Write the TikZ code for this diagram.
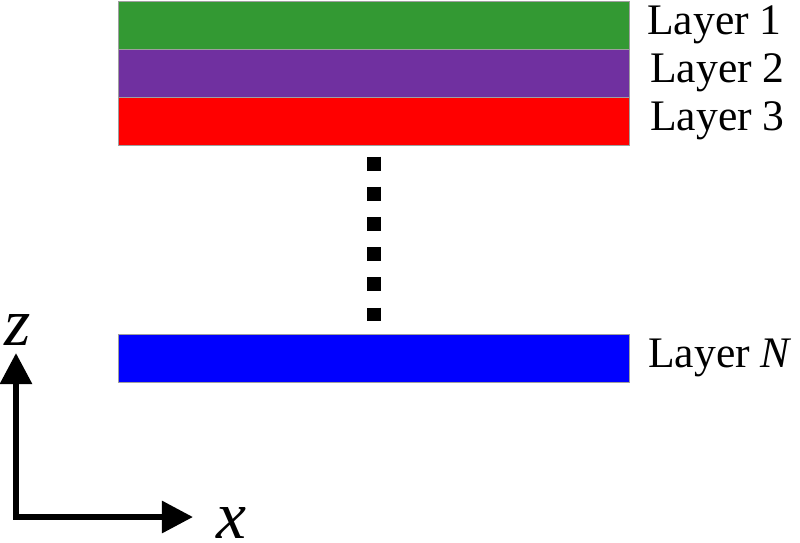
\documentclass[tikz,border=0pt]{standalone}
\usepackage{fontspec}
\setmainfont{Liberation Serif}
\usetikzlibrary{arrows.meta,positioning}

\definecolor{layergreen}{HTML}{339933}
\definecolor{layerpurple}{HTML}{7030A0}
\definecolor{layerred}{HTML}{FF0000}
\definecolor{layerblue}{HTML}{0000FF}

\tikzset{
  layer/.style={draw=gray!75, line width=0.7pt, minimum width=12.75cm, minimum height=1.2cm, inner sep=0pt},
  layerlabel/.style={anchor=west, inner sep=0pt, font=\fontsize{31}{36}\selectfont},
  axislabel/.style={inner sep=0pt, font=\fontsize{48}{54}\selectfont\itshape},
  axis/.style={line width=0.15cm, line join=miter, {Triangle[length=0.78cm,width=0.78cm]}-{Triangle[length=0.78cm,width=0.78cm]}},
  dots/.style={line width=0.35cm, dash pattern=on 0.35cm off 0.405cm}
}

\begin{document}
\begin{tikzpicture}[x=0.025cm, y=-0.025cm]
	\useasboundingbox[fill=white] (0, 0) rectangle (800, 542);
	% the stack of layers
	\node[layer, fill=layergreen] (l1) at (374, 25) {};
	\node[layer, fill=layerpurple] (l2) at (374, 73) {};
	\node[layer, fill=layerred] (l3) at (374, 121) {};
	\node[layer, fill=layerblue] (ln) at (374, 358) {};
	\node[layerlabel] (t1) at (647, 25) {Layer 1};
	\node[layerlabel] (t2) at (650, 73) {Layer 2};
	\node[layerlabel] (t3) at (650, 121) {Layer 3};
	\node[layerlabel] (tn) at (648, 358) {Layer \textit{N}};
	\draw[dots] ([yshift=-0.275cm]l3.south) -- ([yshift=0.325cm]ln.north);
	% axes
	\coordinate (o) at (16, 517);
	\coordinate (ztip) at (16, 353);
	\coordinate (xtip) at (193, 517);
	\draw[axis] (ztip) -- (o) -- (xtip);
	\node[axislabel] (zl) at (18, 330) {z};
	\node[axislabel] (xl) at (231, 523) {x};
\end{tikzpicture}
\end{document}
